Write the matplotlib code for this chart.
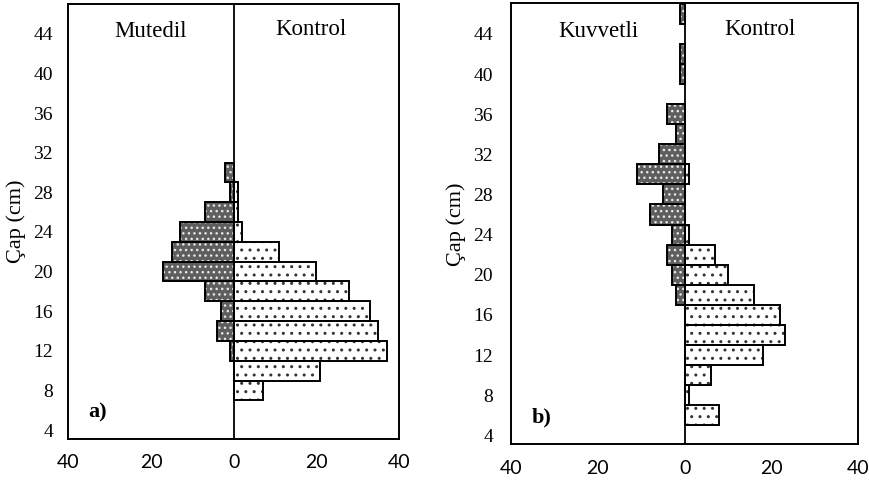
import matplotlib
matplotlib.use("Agg")
import matplotlib.pyplot as plt
import numpy as np

plt.rcParams["font.family"] = ["Liberation Serif", "DejaVu Serif"]
plt.rcParams["hatch.linewidth"] = 1.0

# diameter classes (cm), bar centres
classes = np.arange(6, 48, 2)

# panel a) number of trees per class
mutedil = [0, 0, 0, 1, 4, 3, 7, 17, 15, 13, 7, 1, 2, 0, 0, 0, 0, 0, 0, 0, 0]
kontrol_a = [0, 7, 21, 37, 35, 33, 28, 20, 11, 2, 1, 1, 0, 0, 0, 0, 0, 0, 0, 0, 0]

# panel b)
kuvvetli = [0, 0, 0, 0, 0, 0, 2, 3, 4, 3, 8, 5, 11, 6, 2, 4, 0, 1, 1, 0, 1]
kontrol_b = [8, 1, 6, 18, 23, 22, 16, 10, 7, 1, 0, 0, 1, 0, 0, 0, 0, 0, 0, 0, 0]

yticks = np.arange(4, 45, 4)
xticks = [-40, -20, 0, 20, 40]
xticklabels = ["40", "20", "0", "20", "40"]


def draw_side(ax, values, sign, dark):
    values = np.asarray(values, dtype=float)
    mask = values > 0
    y = classes[mask]
    w = sign * values[mask]
    if dark:
        ax.barh(y, w, height=2, color="#5e5e5e", edgecolor="#e8e8e8",
                hatch="...", linewidth=0, zorder=2)
    else:
        ax.barh(y, w, height=2, color="white", edgecolor="#333333",
                hatch="..", linewidth=0, zorder=2)
    ax.barh(y, w, height=2, fill=False, edgecolor="black", linewidth=1.4, zorder=3)


def setup(ax, left_label, right_x, tag, ylim, pad):
    ax.set_xlim(-40, 40)
    ax.set_ylim(*ylim)
    ax.axvline(0, color="black", linewidth=1.3, zorder=4)
    ax.set_yticks(yticks)
    ax.set_xticks(xticks)
    ax.set_xticklabels(xticklabels, family="Lato", fontsize=14)
    ax.tick_params(axis="y", length=0, pad=pad, labelsize=14)
    ax.tick_params(axis="x", length=0, pad=11)
    for s in ax.spines.values():
        s.set_linewidth(1.4)
    ax.set_ylabel("Çap (cm)", fontsize=16, labelpad=5)
    ax.text(-20, 44.2, left_label, ha="center", va="center", fontsize=16.5)
    ax.text(right_x, 44.4, "Kontrol", ha="center", va="center", fontsize=16.5)
    ax.text(-33, 5.8, tag, ha="center", va="center", fontsize=16, fontweight="bold")


fig = plt.figure(figsize=(8.7, 4.84), dpi=100)
ax1 = fig.add_axes([0.0785, 0.093, 0.3801, 0.8987])
ax2 = fig.add_axes([0.5874, 0.082, 0.3992, 0.9112])

draw_side(ax1, mutedil, -1, True)
draw_side(ax1, kontrol_a, 1, False)
setup(ax1, "Mutedil", 18.8, "a)", (3.1, 47.0), 11)

draw_side(ax2, kuvvetli, -1, True)
draw_side(ax2, kontrol_b, 1, False)
setup(ax2, "Kuvvetli", 17.3, "b)", (3.1, 47.05), 13)

fig.savefig("out.png", dpi=100)
